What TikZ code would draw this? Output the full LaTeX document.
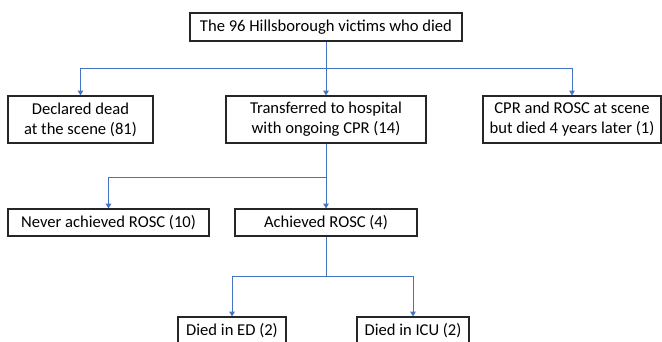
\documentclass[tikz,border=0pt]{standalone}
\usepackage{fontspec}
\setmainfont{Carlito}
\usetikzlibrary{arrows.meta}
\definecolor{linkblue}{RGB}{68,114,196}
\tikzset{
  box/.style={draw=black!85, line width=0.8pt, align=center, inner sep=0pt,
    font=\fontsize{11.8}{14.2}\selectfont},
  link/.style={draw=linkblue, line width=0.7pt},
  linkarrow/.style={link, -{Triangle[width=4pt,length=3.5pt]}},
}

\begin{document}
\begin{tikzpicture}[x=0.025cm,y=-0.025cm]
			\useasboundingbox (0,0) rectangle (662,341);
			\clip (0,0) rectangle (662,341);
			% boxes
			\node[box, minimum width=6.8cm, minimum height=0.7cm] (victims) at (326,27) {The 96 Hillsborough victims who died};
			\node[box, minimum width=3.625cm, minimum height=1.175cm] (scene) at (80.5,119.5) {Declared dead\\at the scene (81)};
			\node[box, minimum width=5cm, minimum height=1.175cm] (hospital) at (326,119.5) {Transferred to hospital\\with ongoing CPR (14)};
			\node[box, minimum width=4.45cm, minimum height=1.175cm] (later) at (572,119.5) {CPR and ROSC at scene\\but died 4 years later (1)};
			\node[box, minimum width=5.025cm, minimum height=0.675cm] (never) at (108.5,222.5) {Never achieved ROSC (10)};
			\node[box, minimum width=4.55cm, minimum height=0.675cm] (rosc) at (326,222.5) {Achieved ROSC (4)};
			\node[box, minimum width=2.7cm, minimum height=0.7cm] (ed) at (232,331) {Died in ED (2)};
			\node[box, minimum width=2.8cm, minimum height=0.7cm] (icu) at (413,331) {Died in ICU (2)};

			% connectors
			\coordinate (split1) at (326,68);
			\coordinate (split2) at (326,177);
			\coordinate (split3) at (326,276);
			\draw[linkarrow] (victims) -- (hospital);
			\draw[linkarrow] (split1) -| (scene);
			\draw[linkarrow] (split1) -| (later);
			\draw[linkarrow] (hospital) -- (rosc);
			\draw[linkarrow] (split2) -| (never);
			\draw[link] (rosc) -- (split3);
			\draw[linkarrow] (split3) -| (ed);
			\draw[linkarrow] (split3) -| (icu);
		\end{tikzpicture}
\end{document}
